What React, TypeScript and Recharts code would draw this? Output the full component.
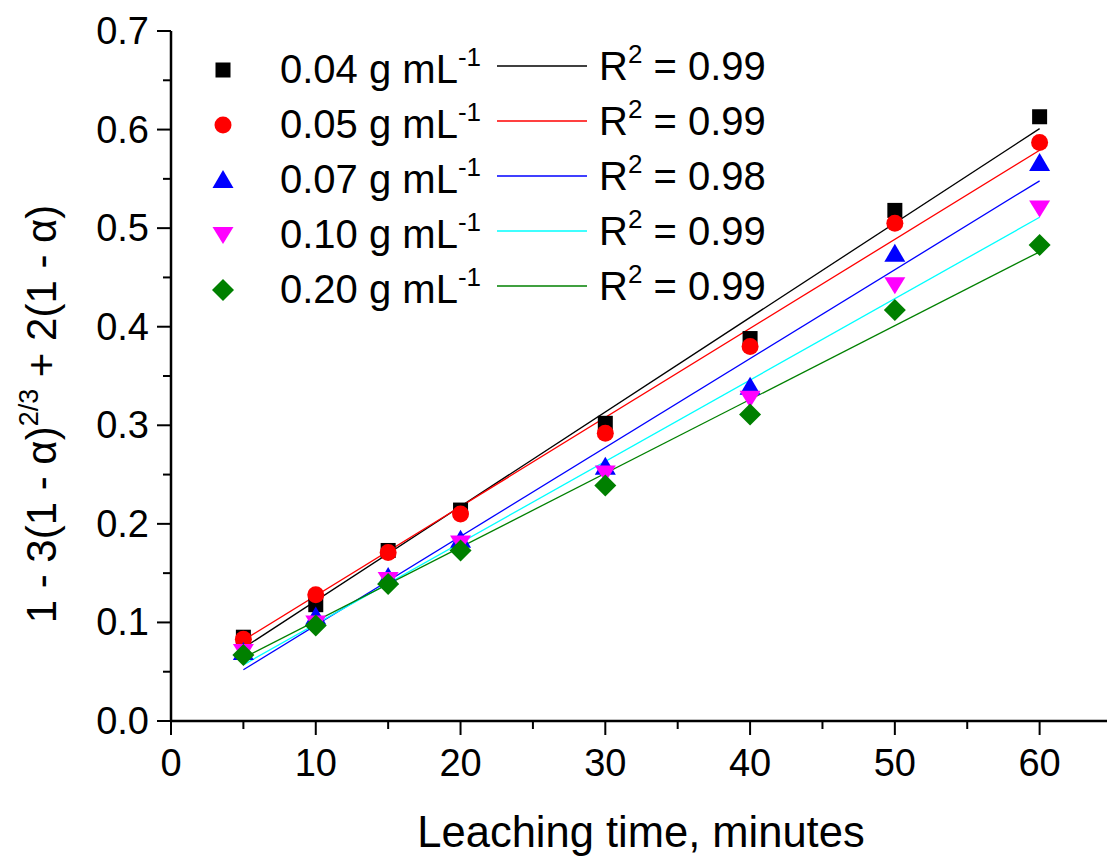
import React from 'react'
import { ComposedChart, Scatter, Line, XAxis, YAxis } from 'recharts'

// leaching time (min) and the kinetic function for each pulp density
const times = [5, 10, 15, 20, 30, 40, 50, 60]
const conc004 = [0.085, 0.118, 0.173, 0.214, 0.302, 0.388, 0.518, 0.613]
const conc005 = [0.083, 0.128, 0.171, 0.21, 0.292, 0.38, 0.505, 0.587]
const conc007 = [0.07, 0.106, 0.146, 0.184, 0.258, 0.339, 0.474, 0.566]
const conc010 = [0.07, 0.099, 0.143, 0.18, 0.251, 0.327, 0.442, 0.52]
const conc020 = [0.067, 0.097, 0.139, 0.173, 0.239, 0.311, 0.417, 0.483]

const concLabels = ['0.04', '0.05', '0.07', '0.10', '0.20']
const r2Labels = ['0.99', '0.99', '0.98', '0.99', '0.99']

// linear fits, value at first and last time
const fitX = [5, 60]
const fitStart = [0.074, 0.082, 0.052, 0.057, 0.064]
const fitEnd = [0.601, 0.579, 0.548, 0.511, 0.476]

const xTicks = [0, 5, 10, 15, 20, 25, 30, 35, 40, 45, 50, 55, 60, 65]
const yTicks = [0, 0.05, 0.1, 0.15, 0.2, 0.25, 0.3, 0.35, 0.4, 0.45, 0.5, 0.55, 0.6, 0.65, 0.7]

const markerColors = ['#000000', '#ff0000', '#0000ff', '#ff00ff', '#008000']
const lineColors = ['#000000', '#ff0000', '#0000ff', '#00ffff', '#008000']
const markerKinds = ['square', 'circle', 'triangle', 'triangleDown', 'diamond']

const FONT = '"Liberation Sans", Arial, sans-serif'

const seriesValues = [conc004, conc005, conc007, conc010, conc020]
const series = seriesValues.map(vals => times.map((t, i) => ({ x: t, y: vals[i] })))
const fits = fitStart.map((s, i) => [
  { x: fitX[0], y: s },
  { x: fitX[1], y: fitEnd[i] },
])

function Marker({ kind, cx, cy, fill }: { kind: string; cx: number; cy: number; fill: string }) {
  if (cx == null || cy == null) return null
  switch (kind) {
    case 'square':
      return <rect x={cx - 7.5} y={cy - 7.5} width={15} height={15} fill={fill} />
    case 'circle':
      return <circle cx={cx} cy={cy} r={8.5} fill={fill} />
    case 'triangle':
      return <polygon points={`${cx},${cy - 10} ${cx + 10.5},${cy + 8} ${cx - 10.5},${cy + 8}`} fill={fill} />
    case 'triangleDown':
      return <polygon points={`${cx - 10.5},${cy - 8} ${cx + 10.5},${cy - 8} ${cx},${cy + 9}`} fill={fill} />
    default:
      return <polygon points={`${cx},${cy - 11} ${cx + 11},${cy} ${cx},${cy + 11} ${cx - 11},${cy}`} fill={fill} />
  }
}

const isMajorX = (v: number) => v % 10 === 0
const isMajorY = (v: number) => Math.round(v * 100) % 10 === 0

const BottomTick = ({ x, y, payload }: any) => {
  const major = isMajorX(payload.value)
  return (
    <g>
      <line x1={x} y1={y} x2={x} y2={y + (major ? 14 : 8)} stroke="#000" strokeWidth={2} />
      {major && (
        <text x={x} y={y + 55} textAnchor="middle" fontSize={38} fontFamily={FONT} fill="#000">
          {payload.value}
        </text>
      )}
    </g>
  )
}

const TopTick = ({ x, y, payload }: any) => {
  const major = isMajorX(payload.value)
  return <line x1={x} y1={y} x2={x} y2={y + (major ? 13 : 7)} stroke="#000" strokeWidth={2} />
}

const LeftTick = ({ x, y, payload }: any) => {
  const major = isMajorY(payload.value)
  return (
    <g>
      <line x1={x - (major ? 14 : 8)} y1={y} x2={x} y2={y} stroke="#000" strokeWidth={2} />
      {major && (
        <text x={x - 22} y={y + 13} textAnchor="end" fontSize={38} fontFamily={FONT} fill="#000">
          {payload.value.toFixed(1)}
        </text>
      )}
    </g>
  )
}

const RightTick = ({ x, y, payload }: any) => {
  const major = isMajorY(payload.value)
  return <line x1={x - (major ? 13 : 7)} y1={y} x2={x} y2={y} stroke="#000" strokeWidth={2} />
}

function Legend() {
  const rowY = [66, 121, 176, 231, 286]
  return (
    <g fontFamily={FONT} fill="#000">
      {concLabels.map((lab, i) => (
        <g key={lab + i}>
          <Marker kind={markerKinds[i]} cx={223} cy={rowY[i] + 4} fill={markerColors[i]} />
          <text x={280} y={rowY[i] + 17} fontSize={40}>
            {lab} g mL
            <tspan dy={-17} fontSize={26}>-1</tspan>
          </text>
          <line x1={497} y1={rowY[i]} x2={587} y2={rowY[i]} stroke={lineColors[i]} strokeWidth={1.3} />
          <text x={599} y={rowY[i] + 14} fontSize={40}>
            R<tspan dy={-17} fontSize={26}>2</tspan>
            <tspan dy={17}> = {r2Labels[i]}</tspan>
          </text>
        </g>
      ))}
    </g>
  )
}

export default function App() {
  return (
    <div style={{ position: 'absolute', left: 0, top: 0, width: 1107, height: 857, overflow: 'hidden', background: '#fff' }}>
      <ComposedChart width={1120} height={857} margin={{ top: 31, right: 8, left: 0, bottom: 0 }}>
        <XAxis
          xAxisId="bottom"
          dataKey="x"
          type="number"
          domain={[0, 65]}
          ticks={xTicks}
          interval={0}
          height={136}
          tickSize={0}
          tickMargin={0}
          tickLine={false}
          axisLine={{ stroke: '#000', strokeWidth: 2.5 }}
          tick={<BottomTick />}
        />
        <XAxis
          xAxisId="top"
          orientation="top"
          dataKey="x"
          type="number"
          domain={[0, 65]}
          ticks={xTicks}
          interval={0}
          height={0}
          tickSize={0}
          tickMargin={0}
          tickLine={false}
          axisLine={{ stroke: '#000', strokeWidth: 2.5 }}
          tick={<TopTick />}
        />
        <YAxis
          yAxisId="left"
          dataKey="y"
          type="number"
          domain={[0, 0.7]}
          ticks={yTicks}
          interval={0}
          width={171}
          tickSize={0}
          tickMargin={0}
          tickLine={false}
          axisLine={{ stroke: '#000', strokeWidth: 2.5 }}
          tick={<LeftTick />}
        />
        <YAxis
          yAxisId="right"
          orientation="right"
          dataKey="y"
          type="number"
          domain={[0, 0.7]}
          ticks={yTicks}
          interval={0}
          width={0}
          tickSize={0}
          tickMargin={0}
          tickLine={false}
          axisLine={{ stroke: '#000', strokeWidth: 2.5 }}
          tick={<RightTick />}
        />
        {series.map((pts, i) => (
          <Scatter
            key={'s' + i}
            xAxisId="bottom"
            yAxisId="left"
            data={pts}
            dataKey="y"
            isAnimationActive={false}
            shape={(p: any) => <Marker kind={markerKinds[i]} cx={p.cx} cy={p.cy} fill={markerColors[i]} />}
          />
        ))}
        {fits.map((pts, i) => (
          <Line
            key={'f' + i}
            xAxisId="bottom"
            yAxisId="left"
            data={pts}
            dataKey="y"
            type="linear"
            stroke={lineColors[i]}
            strokeWidth={1.3}
            dot={false}
            activeDot={false}
            isAnimationActive={false}
          />
        ))}
      </ComposedChart>
      <svg width={1107} height={857} style={{ position: 'absolute', left: 0, top: 0, pointerEvents: 'none' }}>
        <Legend />
        <text x={641} y={847} textAnchor="middle" fontSize={43.5} fontFamily={FONT} fill="#000">
          Leaching time, minutes
        </text>
        <text transform="translate(56,414) rotate(-90)" textAnchor="middle" fontSize={42} fontFamily={FONT} fill="#000">
          1 - 3(1 - α)
          <tspan dy={-18} fontSize={27}>2/3</tspan>
          <tspan dy={18}> + 2(1 - α)</tspan>
        </text>
      </svg>
    </div>
  )
}
